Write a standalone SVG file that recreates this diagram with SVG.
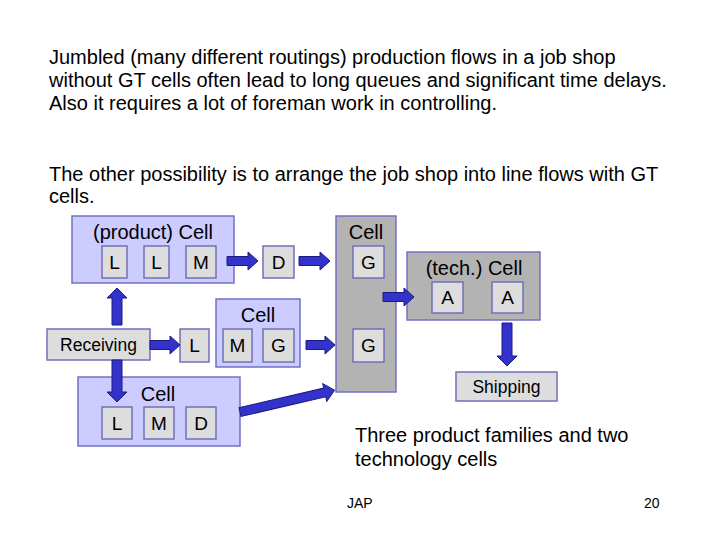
<svg xmlns="http://www.w3.org/2000/svg" width="720" height="540" viewBox="0 0 720 540">
<style>
text{font-family:"Liberation Sans",Arial,sans-serif;fill:#000}
.body{font-size:20px}
.lbl{font-size:20px;text-anchor:middle}
.box{font-size:19px;text-anchor:middle}
.small{font-size:17.5px;text-anchor:middle}
.cell{fill:#CCCCFF;stroke:#7070C8;stroke-width:1.5}
.gcell{fill:#B3B3B3;stroke:#7070C8;stroke-width:1.5}
.m{fill:#DDDDDD;stroke:#7070B8;stroke-width:1.5}
.arr{fill:#3333CC;stroke:#1A1A80;stroke-width:1}
</style>
<rect width="720" height="540" fill="#fff"/>
<g id="text">
<text class="body" x="49" y="64">Jumbled (many different routings) production flows in a job shop</text>
<text class="body" x="49" y="87">without GT cells often lead to long queues and significant time delays.</text>
<text class="body" x="49" y="110">Also it requires a lot of foreman work in controlling.</text>
<text class="body" x="49" y="181">The other possibility is to arrange the job shop into line flows with GT</text>
<text class="body" x="49" y="203">cells.</text>
<text class="body" x="355" y="442">Three product families and two</text>
<text class="body" x="355" y="466">technology cells</text>
<text x="347" y="508" style="font-size:14px">JAP</text>
<text x="644" y="508" style="font-size:14px">20</text>
</g>
<g id="product-cell">
<rect class="cell" x="72" y="216" width="162" height="67"/>
<text class="lbl" x="153" y="239">(product) Cell</text>
<rect class="m" x="102" y="246" width="25" height="32"/><text class="box" x="114.5" y="269">L</text>
<rect class="m" x="144" y="246" width="25" height="32"/><text class="box" x="156.5" y="269">L</text>
<rect class="m" x="186" y="246" width="30" height="32"/><text class="box" x="201" y="269">M</text>
</g>
<g id="machine-D">
<rect class="m" x="263" y="246" width="31" height="32"/><text class="box" x="278.5" y="269">D</text>
</g>
<g id="gray-cell">
<rect class="gcell" x="336" y="216" width="60" height="176"/>
<text class="lbl" x="366" y="239">Cell</text>
<rect class="m" x="353" y="246" width="31" height="32"/><text class="box" x="368.5" y="269">G</text>
<rect class="m" x="353" y="329" width="31" height="33"/><text class="box" x="368.5" y="352">G</text>
</g>
<g id="tech-cell">
<rect class="gcell" x="407" y="252" width="133" height="68"/>
<text class="lbl" x="474" y="275">(tech.) Cell</text>
<rect class="m" x="432" y="282" width="31" height="31"/><text class="box" x="447.5" y="304">A</text>
<rect class="m" x="492" y="282" width="31" height="31"/><text class="box" x="507.5" y="304">A</text>
</g>
<g id="shipping">
<rect class="m" x="456" y="372" width="101" height="29"/>
<text class="small" x="506.5" y="392.5">Shipping</text>
</g>
<g id="receiving">
<rect class="m" x="47" y="329" width="103" height="31"/>
<text class="small" x="98.5" y="350.5">Receiving</text>
</g>
<g id="machine-L">
<rect class="m" x="180" y="329" width="29" height="33"/><text class="box" x="194.5" y="352">L</text>
</g>
<g id="middle-cell">
<rect class="cell" x="216" y="299" width="84" height="68"/>
<text class="lbl" x="258" y="322">Cell</text>
<rect class="m" x="223" y="329" width="29" height="33"/><text class="box" x="237.5" y="352">M</text>
<rect class="m" x="263" y="329" width="31" height="33"/><text class="box" x="278.5" y="352">G</text>
</g>
<g id="bottom-cell">
<rect class="cell" x="78" y="377" width="162" height="69"/>
<text class="lbl" x="158" y="401">Cell</text>
<rect class="m" x="102" y="407" width="30" height="32"/><text class="box" x="117" y="430">L</text>
<rect class="m" x="144" y="407" width="30" height="32"/><text class="box" x="159" y="430">M</text>
<rect class="m" x="186" y="407" width="30" height="32"/><text class="box" x="201" y="430">D</text>
</g>
<g id="connectors">
<polygon class="arr" points="227,256.5 248,256.5 248,252 258,261 248,270 248,265.5 227,265.5"/>
<polygon class="arr" points="299,256.5 320,256.5 320,252 330,261 320,270 320,265.5 299,265.5"/>
<polygon class="arr" points="383,292.5 404,292.5 404,288 414,297 404,306 404,301.5 383,301.5"/>
<polygon class="arr" points="150,340.5 170,340.5 170,336 180,345 170,354 170,349.5 150,349.5"/>
<polygon class="arr" points="306,340.5 325,340.5 325,336 335,345 325,354 325,349.5 306,349.5"/>
<polygon class="arr" points="112,325 112,298 107,298 117,288 127,298 122,298 122,325"/>
<polygon class="arr" points="112,360 112,392 107,392 117,402 127,392 122,392 122,360"/>
<polygon class="arr" points="502,323 502,356 497,356 507,366 517,356 512,356 512,323"/>
<polygon class="arr" transform="translate(240,412) rotate(-13)" points="0,-4.5 87,-4.5 87,-9 97,0 87,9 87,4.5 0,4.5"/>
</g>
</svg>
